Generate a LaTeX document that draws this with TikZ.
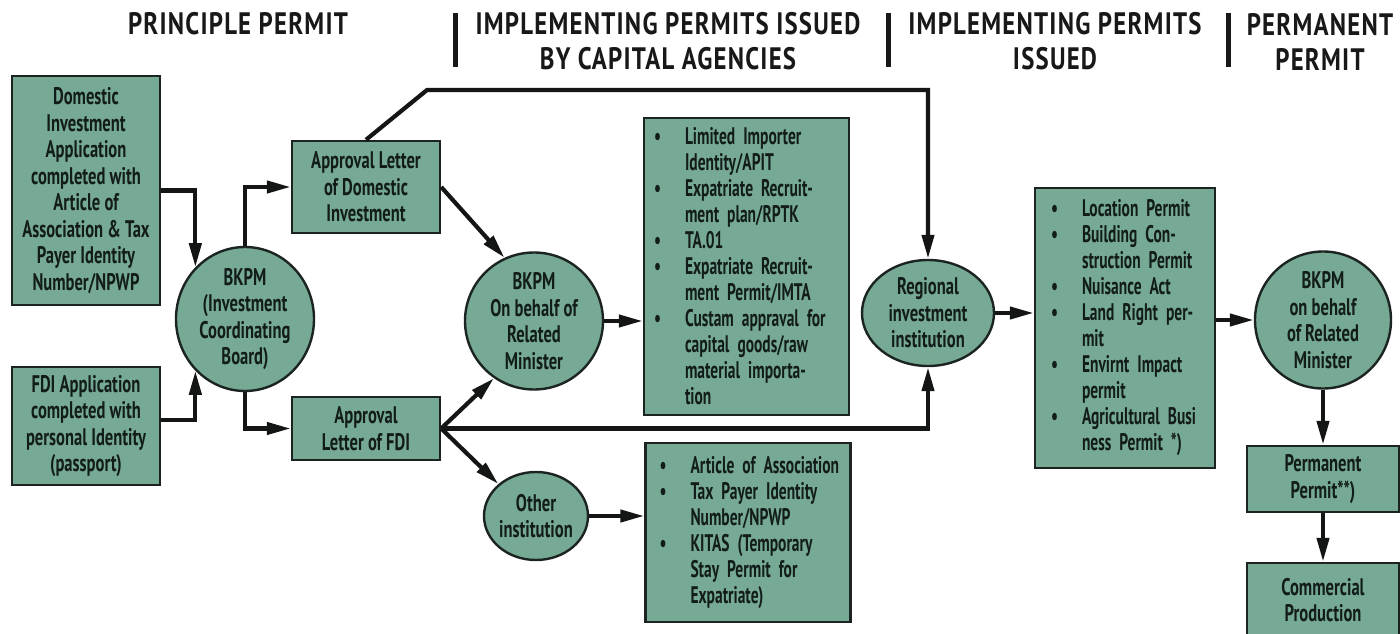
\documentclass[tikz,border=0pt]{standalone}
\usepackage{fontspec}
\usetikzlibrary{arrows.meta,shapes.geometric}
\newfontfamily\boxfont{PT Sans}[FakeStretch=0.69]
\newfontfamily\listfont{PT Sans}[FakeStretch=0.645]
\newfontfamily\headfont{PT Sans}[FakeStretch=0.8,LetterSpace=4]
\definecolor{boxg}{RGB}{118,170,149}
\definecolor{bdr}{RGB}{28,36,34}
\definecolor{txt}{RGB}{18,28,25}
\definecolor{lin}{RGB}{20,22,22}
\definecolor{hd}{RGB}{24,24,24}
\newcommand\itm{\leavevmode\llap{\textbullet\hspace{24pt}}}
\begin{document}
\begin{tikzpicture}[x=1pt,y=1pt,
  box/.style={draw=bdr, fill=boxg, line width=2.4pt, inner sep=0pt, text=txt, align=center,
    font=\boxfont\bfseries\fontsize{24}{26.5}\selectfont},
  oval/.style={box, ellipse},
  listbox/.style={box, align=left, font=\listfont\bfseries\fontsize{24}{26}\selectfont},
  arr/.style={line width=4.2pt, draw=lin, -{Triangle[length=24pt,width=12pt]}},
  head/.style={inner sep=0pt, text=hd, align=center, font=\headfont\bfseries\fontsize{31}{35}\selectfont},
  bar/.style={line width=5pt, draw=hd}]
\fill[white] (0,0) rectangle (1400,633);
\useasboundingbox (0,0) rectangle (1400,633);

% headers
\node[head] (h1) at (238,609) {PRINCIPLE PERMIT};
\node[head] (h2) at (668,591.5) {IMPLEMENTING PERMITS ISSUED\\BY CAPITAL AGENCIES};
\node[head] (h3) at (1055,591.5) {IMPLEMENTING PERMITS\\ISSUED};
\node[head] (h4) at (1320,591.5) {PERMANENT\\PERMIT};
\draw[bar] (455,620) -- (455,566);
\draw[bar] (888,620) -- (888,566);
\draw[bar] (1228,620) -- (1228,566);

% nodes
\node[box, minimum width=148pt, minimum height=229pt] (dom) at (86,442.5)
  {Domestic\\Investment\\Application\\completed with\\Article of\\Association \& Tax\\Payer Identity\\Number/NPWP};
\node[box, minimum width=148pt, minimum height=118pt] (fdi) at (86,207)
  {FDI Application\\completed with\\personal Identity\\(passport)};
\node[oval, minimum width=138pt, minimum height=120pt] (bk1) at (245,314)
  {BKPM\\(Investment\\Coordinating\\Board)};
\node[box, minimum width=148pt, minimum height=92pt] (ald) at (366,446)
  {Approval Letter\\of Domestic\\Investment};
\node[box, minimum width=148pt, minimum height=63pt] (alf) at (366,204.5)
  {Approval\\Letter of FDI};
\node[oval, minimum width=138pt, minimum height=122pt] (bk2) at (534,312)
  {BKPM\\On behalf of\\Related\\Minister};
\node[oval, minimum width=104pt, minimum height=88pt] (oth) at (536,117)
  {Other\\institution};
\node[listbox, minimum width=205pt, minimum height=297pt, text width=123pt] (lst1) at (746.5,366.5)
  {\itm\mbox{Limited Importer}\\\mbox{Identity/APIT}\\
   \itm\mbox{Expatriate Recruit-}\\\mbox{ment plan/RPTK}\\
   \itm\mbox{TA.01}\\
   \itm\mbox{Expatriate Recruit-}\\\mbox{ment Permit/IMTA}\\
   \itm\mbox{Custam appraval for}\\\mbox{capital goods/raw}\\\mbox{material importa-}\\\mbox{tion}};
\node[listbox, minimum width=205pt, minimum height=179pt, text width=115pt] (lst2) at (748,100.5)
  {\itm\mbox{Article of Association}\\
   \itm\mbox{Tax Payer Identity}\\\mbox{Number/NPWP}\\
   \itm\mbox{KITAS (Temporary}\\\mbox{Stay Permit for}\\\mbox{Expatriate)}};
\node[oval, minimum width=132pt, minimum height=106pt] (reg) at (928,320)
  {Regional\\investment\\institution};
\node[listbox, minimum width=180pt, minimum height=280pt, text width=86pt] (loc) at (1125,305)
  {\itm\mbox{Location Permit}\\
   \itm\mbox{Building Con-}\\\mbox{struction Permit}\\
   \itm\mbox{Nuisance Act}\\
   \itm\mbox{Land Right per-}\\\mbox{mit}\\
   \itm\mbox{Envirnt Impact}\\\mbox{permit}\\
   \itm\mbox{Agricultural Busi}\\\mbox{ness Permit *)}};
\node[oval, minimum width=136pt, minimum height=136pt] (bk3) at (1323,313)
  {BKPM\\on behalf\\of Related\\Minister};
\node[box, minimum width=152pt, minimum height=66pt] (perm) at (1323,154)
  {Permanent\\Permit**)};
\node[box, minimum width=152pt, minimum height=74pt] (com) at (1323,33)
  {Commercial\\Production};
\coordinate (c1) at (427,543);

% connectors
\draw[arr] (dom.east) -| (bk1.north west);
\draw[arr] ([yshift=6pt]fdi.east) -| (bk1.south west);
\draw[arr] (bk1.north) |- (ald.west);
\draw[arr] (bk1.south) |- (alf.west);
\draw[arr] (ald.north) -- (c1) -| (reg.north);
\draw[arr] (ald.east) -- (bk2.115);
\draw[arr] (alf.east) -- (bk2.235);
\draw[arr] (alf.east) -| (reg.south);
\draw[arr] (alf.east) -- (oth.north west);
\draw[arr] (bk2.east) -- (bk2.east -| lst1.west);
\draw[arr] (oth.east) -- (oth.east -| lst2.west);
\draw[arr] (reg.east) -- (reg.east -| loc.west);
\draw[arr] (bk3.west -| loc.east) -- (bk3.west);
\draw[arr] (bk3.south) -- (perm.north);
\draw[arr] (perm.south) -- (com.north);
\end{tikzpicture}
\end{document}
